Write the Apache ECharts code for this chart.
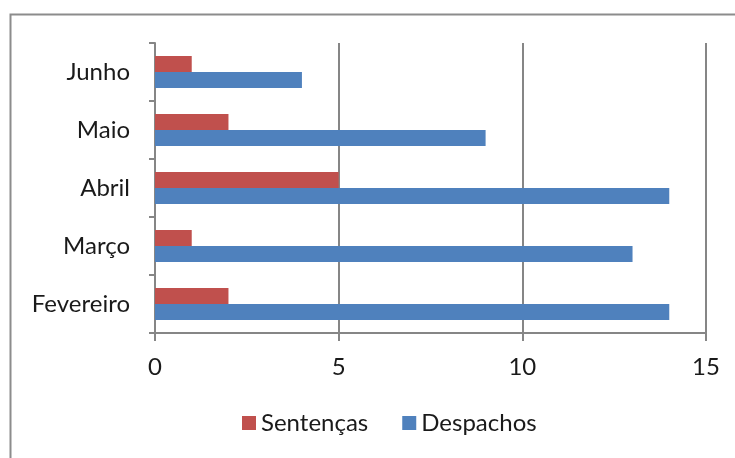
<!DOCTYPE html>
<html lang="pt">
<head>
<meta charset="UTF-8" />
<title>Sentenças e Despachos</title>
<script src="https://cdn.jsdelivr.net/npm/echarts@6/dist/echarts.min.js"></script>
<style>
  html, body { margin: 0; padding: 0; background: #fff; }
  #main { width: 735px; height: 458px; }
</style>
</head>
<body>
<div id="main"></div>
<script>
// dados do gráfico
var meses = ['Fevereiro', 'Março', 'Abril', 'Maio', 'Junho'];
var sentencas = [2, 1, 5, 2, 1];
var despachos = [14, 13, 14, 9, 4];
var eixoTicks = [0, 5, 10, 15];

var fonte = 'Lato, "Open Sans", sans-serif';
var cinza = '#868686';

var myChart = echarts.init(document.getElementById('main'));
myChart.setOption({
  animation: false,
  textStyle: { fontFamily: fonte },
  graphic: [{
    type: 'rect',
    shape: { x: 10.5, y: 14.5, width: 740, height: 460 },
    style: { fill: 'none', stroke: '#8c8c8c', lineWidth: 2 }
  }],
  legend: {
    bottom: 18,
    left: 237,
    itemWidth: 14,
    itemHeight: 14,
    itemGap: 34,
    icon: 'rect',
    textStyle: { fontSize: 24, color: '#1a1a1a', fontFamily: fonte },
    data: ['Sentenças', 'Despachos']
  },
  grid: { left: 155, right: 29, top: 43, bottom: 125 },
  xAxis: {
    type: 'value',
    min: eixoTicks[0],
    max: eixoTicks[eixoTicks.length - 1],
    interval: 5,
    axisLine: { show: true, lineStyle: { color: cinza, width: 2 } },
    axisTick: { show: true, length: 8, lineStyle: { color: cinza, width: 2 } },
    splitLine: { show: true, lineStyle: { color: cinza, width: 2 } },
    axisLabel: { fontSize: 24, color: '#1a1a1a', margin: 22, fontFamily: fonte }
  },
  yAxis: {
    type: 'category',
    data: meses,
    axisLine: { show: true, lineStyle: { color: cinza, width: 2 } },
    axisTick: { show: true, length: 6, lineStyle: { color: cinza, width: 2 } },
    axisLabel: { fontSize: 24, color: '#1a1a1a', margin: 25, fontFamily: fonte }
  },
  series: [
    {
      name: 'Sentenças',
      type: 'bar',
      data: sentencas,
      barGap: '0%',
      barCategoryGap: '45%',
      itemStyle: { color: '#C0504D' },
      z: 3
    },
    {
      name: 'Despachos',
      type: 'bar',
      data: despachos,
      barGap: '0%',
      barCategoryGap: '45%',
      itemStyle: { color: '#4F81BD' },
      z: 3
    }
  ]
});
</script>
</body>
</html>
